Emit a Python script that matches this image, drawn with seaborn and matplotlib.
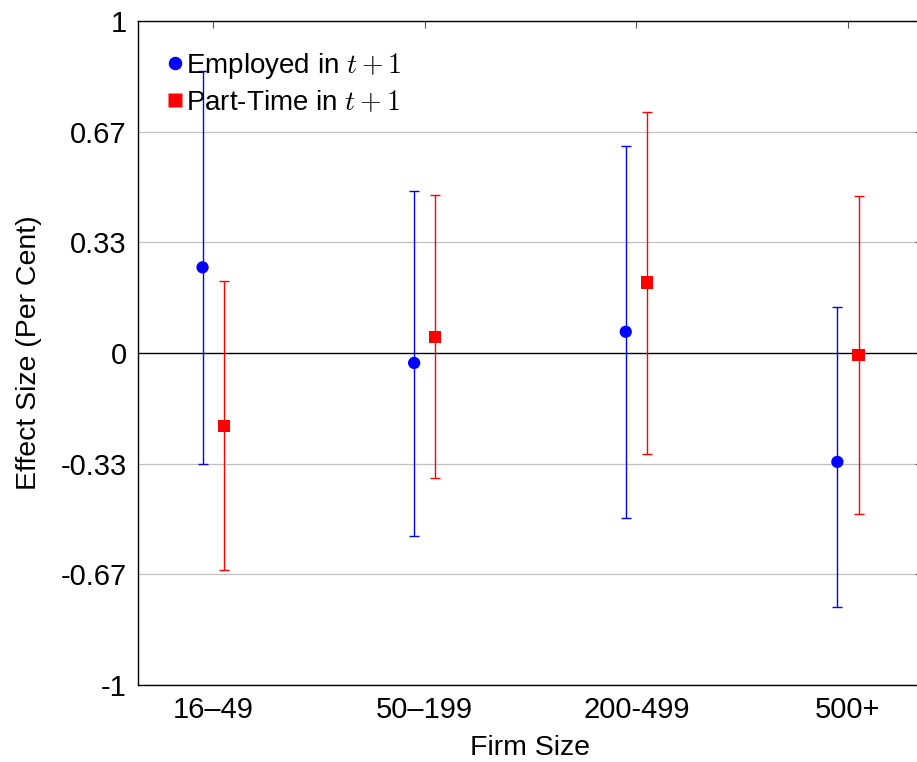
import numpy as np
import pandas as pd
import matplotlib
matplotlib.use("Agg")
import matplotlib.pyplot as plt
import seaborn as sns

# Firm-size groups and estimated effects with confidence bounds (per cent)
firm_sizes = ["16–49", "50–199", "200-499", "500+"]

employed_est = [0.258, -0.030, 0.064, -0.328]
employed_lo = [-0.334, -0.550, -0.498, -0.764]
employed_hi = [0.849, 0.488, 0.623, 0.138]

parttime_est = [-0.219, 0.049, 0.212, -0.007]
parttime_lo = [-0.654, -0.378, -0.305, -0.485]
parttime_hi = [0.218, 0.476, 0.727, 0.474]

ytick_vals = [-1, -2 / 3, -1 / 3, 0, 1 / 3, 2 / 3, 1]
ytick_labels = ["-1", "-0.67", "-0.33", "0", "0.33", "0.67", "1"]

sns.set_theme(style="white")
plt.rcParams["font.family"] = ["Liberation Sans", "DejaVu Sans"]
plt.rcParams["mathtext.fontset"] = "cm"
plt.rcParams["text.color"] = "black"
plt.rcParams["axes.labelcolor"] = "black"
plt.rcParams["xtick.labelcolor"] = "black"
plt.rcParams["ytick.labelcolor"] = "black"

fig = plt.figure(figsize=(9.17, 7.62), dpi=100)
W, H = 917, 762
left, right, top, bottom = 138, 922, 21, 685
ax = fig.add_axes([left / W, 1 - bottom / H, (right - left) / W, (bottom - top) / H])

pos = np.arange(len(firm_sizes))
off = 0.05

df = pd.DataFrame({
    "x": np.concatenate([pos - off, pos + off]),
    "y": employed_est + parttime_est,
    "series": [r"Employed in $t+1$"] * 4 + [r"Part-Time in $t+1$"] * 4,
})

# grid and zero line
for v in ytick_vals:
    if v != 0:
        ax.axhline(v, color="#c0c0c0", lw=0.9, zorder=0)
ax.axhline(0, color="black", lw=1.0, zorder=1)

emp = np.array(employed_est)
pt = np.array(parttime_est)
ax.errorbar(pos - off, emp, yerr=[emp - np.array(employed_lo), np.array(employed_hi) - emp],
            fmt="none", ecolor="blue", elinewidth=1.0, capsize=3.8, capthick=1.0, zorder=2)
ax.errorbar(pos + off, pt, yerr=[pt - np.array(parttime_lo), np.array(parttime_hi) - pt],
            fmt="none", ecolor="red", elinewidth=1.0, capsize=3.8, capthick=1.0, zorder=2)

sns.scatterplot(data=df, x="x", y="y", hue="series", style="series",
                palette=["blue", "red"], markers=["o", "s"], s=78,
                edgecolor="none", ax=ax, zorder=3)

ax.set_xlim(-0.355, 3.35)
ax.set_ylim(-1, 1)
ax.set_xticks(pos)
ax.set_xticklabels(firm_sizes)
ax.set_yticks(ytick_vals)
ax.set_yticklabels(ytick_labels)
ax.tick_params(axis="both", direction="in", length=5, width=0.8, color="#555555",
               labelsize=21, top=True, right=True, pad=8)
ax.set_xlabel("Firm Size", fontsize=20.5)
ax.set_ylabel("Effect Size (Per Cent)", fontsize=20.5)
ax.xaxis.set_label_coords(0.5, -0.075)
ax.yaxis.set_label_coords(-0.123, 0.5)

for s in ax.spines.values():
    s.set_color("black")
    s.set_linewidth(1.0)

leg = ax.legend(loc="upper left", bbox_to_anchor=(158 / W, 1 - 51 / H),
                bbox_transform=fig.transFigure, frameon=False,
                fontsize=20, handletextpad=-0.2, borderaxespad=0.0, borderpad=0.0,
                labelspacing=0.32, markerscale=1.1, handlelength=1.2)

fig.savefig("out.png", dpi=100)
